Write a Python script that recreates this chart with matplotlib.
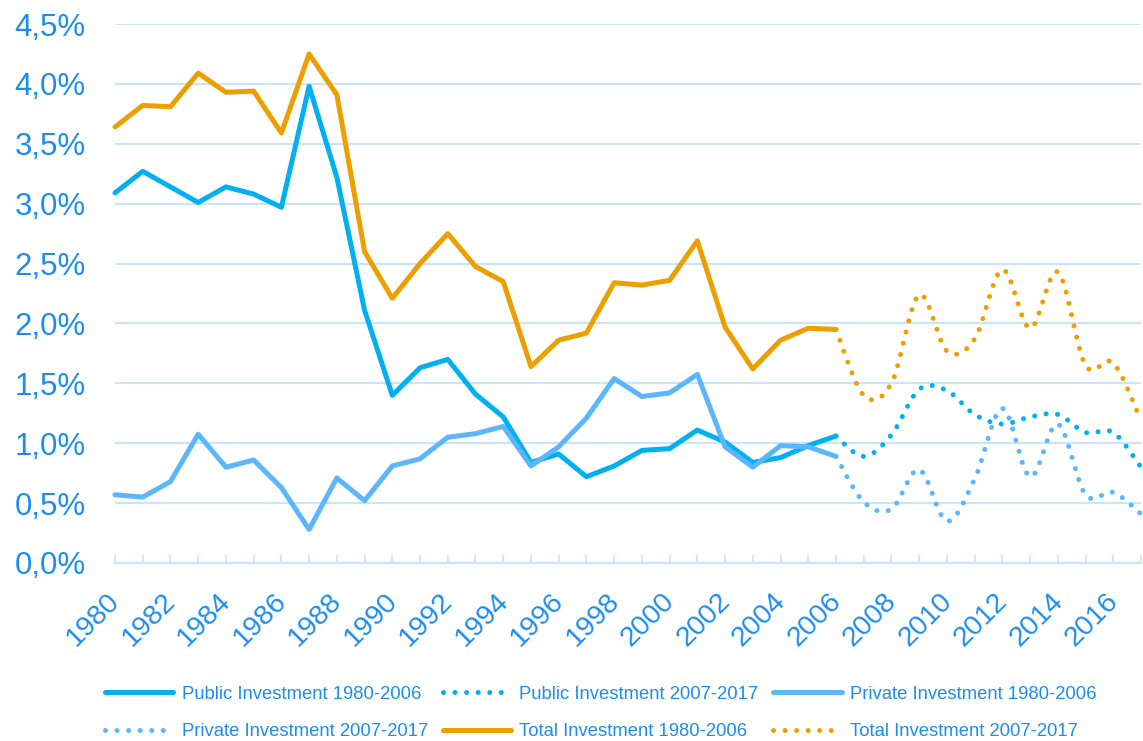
import numpy as np
import matplotlib
matplotlib.use("Agg")
import matplotlib.pyplot as plt
from matplotlib.transforms import ScaledTranslation

plt.rcParams['font.family'] = ['Liberation Sans', 'DejaVu Sans']

# yearly values, % of GDP
years_a = list(range(1980, 2007))
years_b = list(range(2006, 2018))

public_a = [3.09, 3.27, 3.14, 3.01, 3.14, 3.08, 2.97, 3.98, 3.22, 2.11,
            1.40, 1.63, 1.70, 1.41, 1.22, 0.84, 0.91, 0.72, 0.81, 0.94,
            0.955, 1.11, 1.01, 0.84, 0.88, 0.98, 1.06]
private_a = [0.57, 0.55, 0.68, 1.075, 0.80, 0.86, 0.63, 0.28, 0.71, 0.52,
             0.81, 0.87, 1.05, 1.08, 1.14, 0.81, 0.97, 1.21, 1.54, 1.39,
             1.42, 1.575, 0.97, 0.80, 0.98, 0.97, 0.89]
total_a = [3.64, 3.82, 3.81, 4.09, 3.93, 3.94, 3.59, 4.25, 3.91, 2.60,
           2.21, 2.50, 2.75, 2.475, 2.35, 1.64, 1.86, 1.92, 2.34, 2.32,
           2.36, 2.69, 1.97, 1.62, 1.86, 1.96, 1.95]

public_b = [1.06, 0.89, 1.07, 1.45, 1.44, 1.24, 1.16, 1.22, 1.24, 1.09, 1.09, 0.80]
private_b = [0.89, 0.51, 0.45, 0.78, 0.35, 0.70, 1.29, 0.72, 1.16, 0.57, 0.59, 0.41]
total_b = [1.95, 1.40, 1.50, 2.24, 1.77, 1.87, 2.45, 1.96, 2.43, 1.65, 1.67, 1.19]

xtick_years = list(range(1980, 2018, 2))

C_PUB = '#00B0F0'
C_PRI = '#5CB6FC'
C_TOT = '#EE9F00'
C_TXT = '#1C8DF0'
C_GRID = '#CBE4F9'


def smooth(xs, ys, n=20):
    # catmull-rom through the points (like a smoothed excel line)
    xs = np.asarray(xs, float)
    ys = np.asarray(ys, float)
    px = np.concatenate([[xs[0]], xs, [xs[-1]]])
    py = np.concatenate([[ys[0]], ys, [ys[-1]]])
    ox, oy = [], []
    for i in range(1, len(px) - 2):
        t = np.linspace(0, 1, n, endpoint=False)
        for p, out in ((px, ox), (py, oy)):
            p0, p1, p2, p3 = p[i - 1], p[i], p[i + 1], p[i + 2]
            c1 = p1 + (p2 - p0) / 6
            c2 = p2 - (p3 - p1) / 6
            out.extend((1 - t) ** 3 * p1 + 3 * (1 - t) ** 2 * t * c1
                       + 3 * (1 - t) * t ** 2 * c2 + t ** 3 * p2)
    ox.append(xs[-1])
    oy.append(ys[-1])
    return ox, oy


fig = plt.figure(figsize=(11.43, 7.41), dpi=100)
ax = fig.add_axes([115 / 1143, 1 - 563 / 741, 1026 / 1143, 539 / 741])

lw = 3.6
dots = (0, (0.01, 2.3))

l1, = ax.plot(years_a, public_a, color=C_PUB, lw=lw, solid_capstyle='round',
              solid_joinstyle='round', clip_on=False, zorder=3)
l3, = ax.plot(years_a, private_a, color=C_PRI, lw=lw, solid_capstyle='round',
              solid_joinstyle='round', clip_on=False, zorder=3)
l5, = ax.plot(years_a, total_a, color=C_TOT, lw=lw, solid_capstyle='round',
              solid_joinstyle='round', clip_on=False, zorder=3)

sx, sy = smooth(years_b, public_b)
l2, = ax.plot(sx, sy, color=C_PUB, lw=lw, ls=dots, dash_capstyle='round', clip_on=False, zorder=3)
sx, sy = smooth(years_b, private_b)
l4, = ax.plot(sx, sy, color=C_PRI, lw=lw, ls=dots, dash_capstyle='round', clip_on=False, zorder=3)
sx, sy = smooth(years_b, total_b)
l6, = ax.plot(sx, sy, color=C_TOT, lw=lw, ls=dots, dash_capstyle='round', clip_on=False, zorder=3)

ax.set_xlim(1980, 2017)
ax.set_ylim(0, 4.5)
ax.set_yticks(np.arange(0, 4.51, 0.5))
ax.set_yticklabels([f"{v:.1f}%".replace('.', ',') for v in np.arange(0, 4.51, 0.5)])
ax.grid(axis='y', color=C_GRID, lw=1.6)
ax.set_axisbelow(True)

for s in ['left', 'right', 'top']:
    ax.spines[s].set_visible(False)
ax.spines['bottom'].set_color(C_GRID)
ax.spines['bottom'].set_linewidth(1.6)

ax.tick_params(axis='y', length=0, labelsize=22.5, labelcolor=C_TXT, pad=21)
ax.tick_params(axis='x', which='both', direction='in', length=6, width=1.2,
               color=C_GRID, labelsize=20.5, labelcolor=C_TXT, pad=18)

ax.set_xticks(range(1980, 2018), minor=True)
ax.set_xticks(xtick_years)
ax.set_xticklabels([str(y) for y in xtick_years], rotation=45, ha='right',
                   rotation_mode='anchor')
# nudge the rotated year labels a bit to the left, as in the original
shift = ScaledTranslation(-8 / 100, 0, fig.dpi_scale_trans)
for lab in ax.get_xticklabels():
    lab.set_transform(lab.get_transform() + shift)

handles = [l1, l4, l2, l5, l3, l6]
labels = ['Public Investment 1980-2006', 'Private Investment 2007-2017',
          'Public Investment 2007-2017', 'Total Investment 1980-2006',
          'Private Investment 1980-2006', 'Total Investment 2007-2017']
leg = fig.legend(handles, labels, ncol=3, loc='center', bbox_to_anchor=(0.5255, 0.038),
                 frameon=False, fontsize=13.3, handlelength=3.7, handletextpad=0.45,
                 columnspacing=0.8, labelspacing=1.1)
for t in leg.get_texts():
    t.set_color(C_TXT)

fig.savefig('out.png', dpi=100)
